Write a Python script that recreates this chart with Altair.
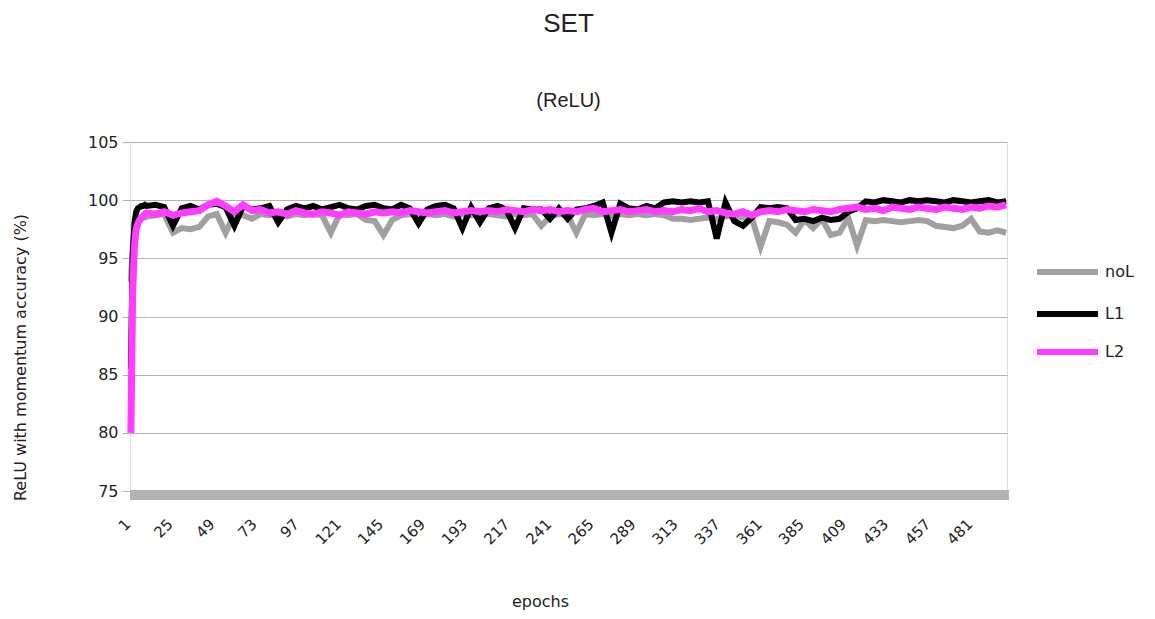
import altair as alt
import pandas as pd

epochs = [1, 2, 3, 4, 5, 6, 7, 8, 9, 10] + list(range(15, 501, 5))

noL = [93.0, 96.0, 97.5, 98.0, 98.2, 98.3, 98.4, 98.5, 98.5, 98.6,
       98.7, 98.8, 97.2, 97.6, 97.5, 97.7, 98.6, 98.8,
       97.2, 98.8, 98.7, 98.4, 98.8, 98.7, 98.8, 98.6, 98.8, 98.7,
       98.8, 98.7, 97.2, 98.8, 98.7, 98.8, 98.3, 98.2, 97.0, 98.3,
       98.7, 98.8, 98.6, 98.8, 98.7, 98.8, 98.6, 98.8, 98.7, 98.8,
       98.8, 98.7, 98.6, 98.8, 98.7, 98.8, 97.8, 98.6, 98.8, 98.7,
       97.2, 98.8, 98.7, 98.8, 98.6, 98.8, 98.7, 98.8, 98.7, 98.8,
       98.7, 98.4, 98.4, 98.3, 98.4, 98.5, 98.4, 98.6, 98.7, 98.5,
       98.5, 96.0, 98.2, 98.1, 97.9, 97.2, 98.3, 97.6, 98.4, 97.0,
       97.2, 98.5, 96.1, 98.3, 98.2, 98.3, 98.2, 98.1, 98.2, 98.3,
       98.2, 97.8, 97.7, 97.6, 97.8, 98.4, 97.3, 97.2, 97.4, 97.2]

L1 = [85.5, 95.0, 98.0, 99.0, 99.3, 99.4, 99.5, 99.5, 99.6, 99.5,
      99.6, 99.4, 97.8, 99.3, 99.5, 99.2, 99.6, 99.7,
      99.4, 97.8, 99.5, 99.2, 99.3, 99.5, 98.1, 99.2, 99.5, 99.3,
      99.5, 99.2, 99.4, 99.6, 99.3, 99.2, 99.5, 99.6, 99.3, 99.2,
      99.6, 99.3, 98.0, 99.2, 99.5, 99.6, 99.3, 97.6, 99.4, 98.1,
      99.3, 99.5, 99.2, 97.6, 99.3, 99.2, 99.2, 98.4, 99.3, 98.4,
      99.2, 99.3, 99.5, 99.8, 97.2, 99.7, 99.3, 99.2, 99.5, 99.3,
      99.8, 99.9, 99.8, 99.9, 99.8, 99.9, 96.7, 99.8, 98.2, 97.8,
      98.5, 99.4, 99.3, 99.4, 99.3, 98.3, 98.4, 98.2, 98.5, 98.3,
      98.4, 99.0, 99.3, 99.9, 99.8, 100.0, 99.9, 99.8, 100.0, 99.9,
      100.0, 99.9, 99.8, 100.0, 99.9, 99.8, 99.9, 100.0, 99.8, 99.9]

L2 = [80.0, 92.0, 96.0, 97.5, 98.0, 98.3, 98.5, 98.6, 98.8, 98.9,
      98.8, 99.0, 98.7, 98.9, 99.0, 99.1, 99.6, 99.9,
      99.5, 99.0, 99.6, 99.1, 99.2, 98.9, 99.0, 98.8, 99.1, 98.9,
      98.8, 99.0, 98.9, 98.7, 99.0, 98.9, 98.8, 99.0, 98.9, 99.0,
      98.9, 99.1, 99.0, 98.9, 99.0, 99.1, 98.9, 99.0, 99.1, 99.0,
      99.1, 99.0, 99.2, 99.1, 99.0, 99.2, 99.1, 99.2, 99.0, 99.1,
      99.0, 99.2, 99.3, 99.0, 99.1, 99.2, 99.0, 99.1, 99.2, 99.0,
      99.1, 99.0, 99.2, 99.1, 99.3, 99.0, 99.1, 98.9, 98.8, 99.0,
      98.7, 99.0, 99.1, 99.0, 99.2, 99.1, 99.0, 99.2, 99.1, 99.0,
      99.2, 99.3, 99.4, 99.2, 99.3, 99.1, 99.4, 99.3, 99.2, 99.4,
      99.3, 99.2, 99.4, 99.3, 99.2, 99.4, 99.3, 99.5, 99.4, 99.6]

series_names = ["noL", "L1", "L2"]
series_colors = ["#a0a0a0", "#000000", "#ff3cff"]
series_widths = [6, 6, 7]
x_ticks = [1, 25, 49, 73, 97, 121, 145, 169, 193, 217, 241, 265, 289,
           313, 337, 361, 385, 409, 433, 457, 481]
y_ticks = [75, 80, 85, 90, 95, 100, 105]

rows = []
for name, vals in zip(series_names, [noL, L1, L2]):
    for e, v in zip(epochs, vals):
        rows.append({"epoch": e, "acc": v, "series": name})
df = pd.DataFrame(rows)
legend_df = pd.DataFrame({"series": series_names})
ticks_df = pd.DataFrame({"epoch": x_ticks})

W, H = 877, 349
FONT = "DejaVu Sans"
LEG_ROWS = [130, 172, 210]

x_scale = alt.Scale(domain=[0.5, 500.5], nice=False, zero=False)
x_enc = alt.X("epoch:Q", scale=x_scale,
              axis=alt.Axis(values=x_ticks, labels=False, domain=False,
                            ticks=False, grid=False, title="epochs",
                            titleFontSize=16, titleFontWeight="normal",
                            titleX=410, titleY=102, titleColor="#222222",
                            titleFont=FONT))
y_enc = alt.Y("acc:Q",
              scale=alt.Scale(domain=[75, 105], nice=False, zero=False),
              axis=alt.Axis(values=y_ticks, grid=True, gridColor="#b3b3b3",
                            domain=False, tickSize=8, tickColor="#b3b3b3",
                            labelFontSize=16, labelColor="#222222",
                            labelFont=FONT, labelPadding=4,
                            title="ReLU with momentum accuracy (%)",
                            titleFontSize=16, titleFontWeight="normal",
                            titleColor="#222222", titleFont=FONT,
                            titleX=-110, titleY=215, titleAngle=270,
                            titleAlign="center", titleBaseline="middle"))
color_scale = alt.Scale(domain=series_names, range=series_colors)

floor = alt.Chart(alt.Data(values=[{"a": 1}])).mark_rect(color="#b3b3b3").encode(
    x=alt.value(0), x2=alt.value(W + 2), y=alt.value(H - 1), y2=alt.value(H + 9))

xlabels = alt.Chart(ticks_df).mark_text(angle=315, align="right",
                                        baseline="middle", fontSize=15, font=FONT,
                                        color="#222222", dx=-4).encode(
    x=alt.X("epoch:Q", scale=x_scale), y=alt.value(H + 28), text="epoch:Q")

layers = [floor]
for i, (name, sw) in enumerate(zip(series_names, series_widths)):
    enc = dict(y=y_enc, color=alt.Color("series:N", scale=color_scale, legend=None))
    enc["x"] = x_enc if i == 0 else alt.X("epoch:Q", scale=x_scale)
    layers.append(
        alt.Chart(df).transform_filter(alt.datum.series == name)
        .mark_line(strokeWidth=sw, strokeCap="butt")
        .encode(**enc)
    )
layers.append(xlabels)

for name, ly in zip(series_names, LEG_ROWS):
    base = alt.Chart(legend_df).transform_filter(alt.datum.series == name)
    layers.append(base.mark_rule(strokeWidth=6).encode(
        y=alt.value(ly), x=alt.value(907), x2=alt.value(968),
        color=alt.Color("series:N", scale=color_scale, legend=None)))
    layers.append(base.mark_text(align="left", baseline="middle", fontSize=16,
                                 font=FONT, color="#222222").encode(
        y=alt.value(ly), x=alt.value(975), text="series:N"))

chart = alt.layer(*layers).properties(
    width=W, height=H,
    padding={"left": 122, "top": 134, "right": 140, "bottom": 126},
    autosize=alt.AutoSizeParams(type="none"),
    title=alt.TitleParams(text="SET", subtitle="(ReLU)", fontSize=26,
                          subtitleFontSize=20, font="Liberation Sans",
                          subtitleFont="Liberation Sans", fontWeight="normal",
                          color="#222222", subtitleColor="#222222",
                          anchor="middle", subtitlePadding=54, offset=23),
).configure_view(stroke="#b3b3b3").configure(background="white")

chart.save("out.html", embed_options={"renderer": "svg", "actions": False})
